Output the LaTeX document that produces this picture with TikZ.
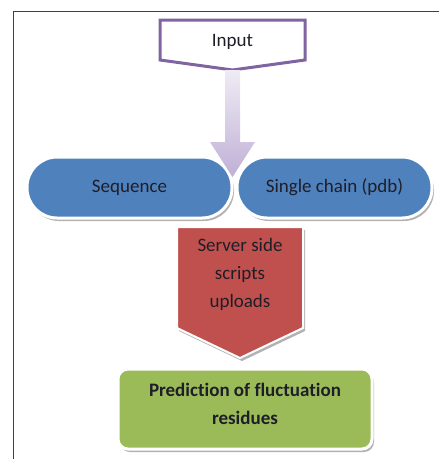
\documentclass[tikz,border=0pt]{standalone}
\usepackage{fontspec}
\setmainfont{Carlito}[RawFeature=-liga]
\usetikzlibrary{shadows,calc}
\definecolor{ofblue}{HTML}{4F81BD}
\definecolor{ofred}{HTML}{C0504D}
\definecolor{ofgreen}{HTML}{9BBB59}
\definecolor{ofpurple}{HTML}{8064A2}
\definecolor{lav}{HTML}{BFB0D6}
\definecolor{txtcol}{HTML}{1E1E28}
\begin{document}
\begin{tikzpicture}[x=1pt,y=-1pt,
  txt/.style={font=\fontsize{19}{28}\selectfont, text=txtcol, align=center, inner sep=0pt},
  sh/.style={drop shadow={shadow xshift=2pt, shadow yshift=-3pt, fill=black, opacity=0.3}},
  bluebox/.style={txt, sh, draw=white, line width=3pt, fill=ofblue, minimum height=61pt, rounded corners=30pt},
  greenbox/.style={sh, draw=white, line width=3pt, fill=ofgreen, minimum width=254pt, minimum height=80pt, rounded corners=10pt},
  redshape/.style={sh, draw=white, line width=2pt, fill=ofred, line join=miter},
  inshape/.style={draw=ofpurple, line width=3pt, fill=white, line join=miter}
]
\useasboundingbox (0,0) rectangle (439,459);
% frame
\draw[line width=1pt, black!75] (13,459) -- (13,11) -- (439,11);
% input pentagon
\draw[inshape] (160,20) -- (305,20) -- (305,60) -- (232.5,70) -- (160,60) -- cycle;
\node[txt] (input) at (232.5,42) {Input};
\coordinate (inbot) at (232.5,70);
% blue boxes
\node[bluebox, minimum width=205pt] (seq) at (129.5,187.5) {Sequence};
\node[bluebox, minimum width=195pt] (pdb) at (334.5,187.5) {Single chain (pdb)};
% arrow from input to the two boxes
\coordinate (tip) at (232.5,177);
\shade[top color=lav!25, bottom color=lav]
  ($(inbot)+(-7.5,0)$) -- ($(inbot)+(7.5,0)$) -- ($(tip)+(7.5,-35)$) -- ($(tip)+(22.5,-35)$) -- (tip)
  -- ($(tip)+(-22.5,-35)$) -- ($(tip)+(-7.5,-35)$) -- cycle;
% red arrow box
\draw[redshape] (177,227) -- (303,227) -- (303,328) -- (240,358) -- (177,328) -- cycle;
\node[txt] (server) at (240,274) {Server side\\scripts\\uploads};
% green box
\node[greenbox] (predbox) at (245,409) {};
\node[txt, font=\fontsize{19}{28}\selectfont\bfseries] (pred) at (245,404) {Prediction of fluctuation\\residues};
\end{tikzpicture}
\end{document}
